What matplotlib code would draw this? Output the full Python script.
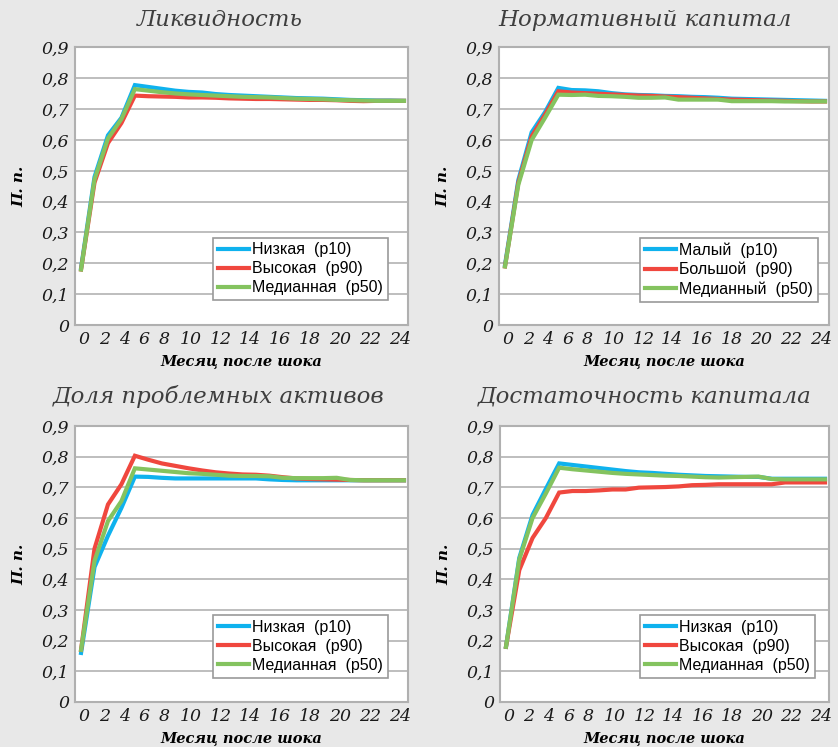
# -*- coding: UTF-8 -*-
import numpy as np
import matplotlib
matplotlib.use('Agg')
import matplotlib.pyplot as plt

# months after the shock
months = list(range(25))
xtick_labels = ['0', '2', '4', '6', '8', '10', '12', '14', '16', '18', '20', '22', '24']

# Ликвидность
liq_low = [0.185, 0.48, 0.615, 0.672, 0.778, 0.772, 0.766, 0.760, 0.756, 0.754, 0.749, 0.746, 0.744,
           0.742, 0.740, 0.738, 0.736, 0.735, 0.734, 0.732, 0.730, 0.729, 0.728, 0.728, 0.727]
liq_high = [0.18, 0.462, 0.59, 0.655, 0.744, 0.742, 0.741, 0.740, 0.738, 0.738, 0.737, 0.735, 0.734,
            0.733, 0.733, 0.732, 0.731, 0.730, 0.730, 0.729, 0.727, 0.726, 0.727, 0.727, 0.727]
liq_med = [0.18, 0.472, 0.605, 0.668, 0.765, 0.760, 0.755, 0.751, 0.748, 0.746, 0.744, 0.742, 0.740,
           0.739, 0.738, 0.736, 0.734, 0.733, 0.732, 0.730, 0.729, 0.728, 0.727, 0.727, 0.727]

# Нормативный капитал
cap_small = [0.195, 0.47, 0.625, 0.69, 0.769, 0.762, 0.761, 0.758, 0.752, 0.748, 0.746, 0.745, 0.743,
             0.742, 0.740, 0.739, 0.737, 0.734, 0.733, 0.732, 0.731, 0.730, 0.729, 0.728, 0.727]
cap_big = [0.19, 0.462, 0.612, 0.682, 0.758, 0.754, 0.752, 0.750, 0.748, 0.746, 0.744, 0.743, 0.741,
           0.739, 0.737, 0.735, 0.733, 0.731, 0.730, 0.729, 0.728, 0.727, 0.726, 0.725, 0.725]
cap_med = [0.19, 0.455, 0.60, 0.672, 0.747, 0.746, 0.747, 0.743, 0.742, 0.740, 0.737, 0.737, 0.738,
           0.731, 0.731, 0.731, 0.731, 0.726, 0.726, 0.726, 0.726, 0.725, 0.725, 0.725, 0.725]

# Доля проблемных активов
npl_low = [0.16, 0.44, 0.542, 0.633, 0.735, 0.734, 0.731, 0.729, 0.729, 0.729, 0.729, 0.729, 0.729,
           0.729, 0.726, 0.724, 0.723, 0.723, 0.723, 0.723, 0.723, 0.723, 0.723, 0.723, 0.723]
npl_high = [0.17, 0.50, 0.644, 0.71, 0.803, 0.79, 0.778, 0.770, 0.762, 0.755, 0.749, 0.745, 0.742,
            0.741, 0.738, 0.733, 0.729, 0.727, 0.726, 0.725, 0.724, 0.723, 0.723, 0.723, 0.723]
npl_med = [0.17, 0.46, 0.59, 0.655, 0.762, 0.758, 0.754, 0.750, 0.746, 0.744, 0.741, 0.738, 0.737,
           0.737, 0.736, 0.731, 0.730, 0.730, 0.730, 0.731, 0.724, 0.723, 0.723, 0.723, 0.723]

# Достаточность капитала
car_low = [0.18, 0.47, 0.61, 0.695, 0.778, 0.773, 0.768, 0.763, 0.758, 0.753, 0.749, 0.747, 0.744,
           0.741, 0.739, 0.737, 0.736, 0.735, 0.734, 0.734, 0.728, 0.728, 0.728, 0.728, 0.728]
car_high = [0.18, 0.43, 0.535, 0.60, 0.683, 0.688, 0.688, 0.690, 0.693, 0.693, 0.699, 0.700, 0.701,
            0.703, 0.707, 0.708, 0.710, 0.710, 0.710, 0.710, 0.710, 0.716, 0.716, 0.716, 0.716]
car_med = [0.18, 0.465, 0.60, 0.68, 0.764, 0.759, 0.755, 0.751, 0.747, 0.744, 0.742, 0.740, 0.738,
           0.737, 0.735, 0.733, 0.732, 0.733, 0.734, 0.735, 0.727, 0.726, 0.726, 0.726, 0.726]

# layout of tick labels along month axis (labels are spread like a text line)
xtick_pos = [0.22, 1.73, 3.22, 4.71, 6.2, 8.18, 10.41, 12.53, 14.77, 17.0, 19.23, 21.46, 23.7]

c_blue = '#0fb2ee'
c_red = '#f0473e'
c_green = '#84c35f'

W, H = 838, 747
fig = plt.figure(figsize=(W / 100, H / 100), dpi=100)
fig.patch.set_facecolor('#e8e8e8')
plt.rcParams['font.family'] = 'DejaVu Serif'

panels = [
    # title, title center x, title y, axes box (left, top, right, bottom) px, series, legend labels
    ("Ликвидность", 220, 20, (75, 47.5, 408, 325), (liq_low, liq_high, liq_med),
     ("Низкая  (p10)", "Высокая  (p90)", "Медианная  (p50)")),
    ("Нормативный капитал", 645, 20, (499, 47.5, 829, 325), (cap_small, cap_big, cap_med),
     ("Малый  (p10)", "Большой  (p90)", "Медианный  (p50)")),
    ("Доля проблемных активов", 219, 396, (75, 426, 408, 702), (npl_low, npl_high, npl_med),
     ("Низкая  (p10)", "Высокая  (p90)", "Медианная  (p50)")),
    ("Достаточность капитала", 645, 396, (500, 426, 829, 702), (car_low, car_high, car_med),
     ("Низкая  (p10)", "Высокая  (p90)", "Медианная  (p50)")),
]

for title, tx, ty, box, series, labels in panels:
    l, t, r, b = box
    ax = fig.add_axes([l / W, (H - b) / H, (r - l) / W, (b - t) / H])
    ax.set_facecolor('white')
    for y, c, lab in zip(series, (c_blue, c_red, c_green), labels):
        ax.plot(months, y, color=c, lw=3.0, label=lab, solid_joinstyle='miter')
    ax.set_xlim(-0.45, 24.3)
    ax.set_ylim(0, 0.9)
    ax.set_yticks(np.arange(0, 0.91, 0.1))
    ax.set_yticklabels(['0'] + ['0,%d' % i for i in range(1, 10)], fontstyle='italic', fontsize=12.5)
    ax.set_xticks(xtick_pos)
    ax.set_xticklabels(xtick_labels, fontstyle='italic', fontsize=12.5)
    ax.tick_params(length=0, pad=4, colors='#1a1a1a')
    ax.grid(axis='y', color='#b3b3b3', lw=1.2)
    ax.set_axisbelow(True)
    for s in ax.spines.values():
        s.set_color('#b0b0b0')
        s.set_linewidth(1.5)
    ax.set_xlabel('Месяц после шока', fontstyle='italic', fontweight='bold', fontsize=10.5, labelpad=5)
    ax.set_ylabel('П. п.', fontstyle='italic', fontweight='bold', fontsize=11, labelpad=11)
    fig.text(tx / W, 1 - ty / H, title, ha='center', va='center', fontstyle='italic',
             fontsize=16.5, color='#3e3e3e')
    leg_x = ((213 if l < 200 else 640) - l) / (r - l)
    leg = ax.legend(loc='upper left', bbox_to_anchor=(leg_x, 0.315), borderaxespad=0,
                    prop={'family': 'Liberation Sans', 'size': 11.5}, frameon=True, fancybox=False,
                    edgecolor='#9a9a9a', framealpha=1, handlelength=1.95, handletextpad=0.2,
                    labelspacing=0.25, borderpad=0.3)
    leg.get_frame().set_linewidth(1.2)

plt.savefig('out.png', dpi=100, facecolor=fig.get_facecolor())
